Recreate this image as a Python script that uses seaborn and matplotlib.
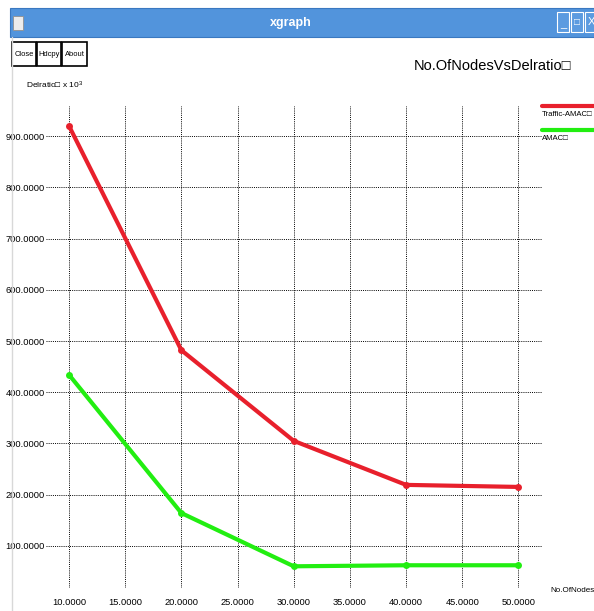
import numpy as np
import pandas as pd
import matplotlib
matplotlib.use('Agg')
import matplotlib.pyplot as plt
import seaborn as sns
from matplotlib.patches import Rectangle
from matplotlib.lines import Line2D

# values
nodes = [10, 20, 30, 40, 50]
traffic_amac = [920, 482, 305, 219, 215]
amac = [434, 164, 60, 62, 62]
series_names = ['Traffic-AMAC\u25a1', 'AMAC\u25a1']
series_colors = ['#e8202c', '#22ee11']
xticks = [10, 15, 20, 25, 30, 35, 40, 45, 50]
yticks = [100, 200, 300, 400, 500, 600, 700, 800, 900]

df = pd.DataFrame({
    'nodes': nodes * 2,
    'delratio': traffic_amac + amac,
    'series': [series_names[0]] * 5 + [series_names[1]] * 5,
})

sns.set_theme(style='white')
plt.rcParams['font.family'] = ['Liberation Sans', 'DejaVu Sans']
plt.rcParams['mathtext.default'] = 'regular'
plt.rcParams['text.color'] = 'black'

W, H = 594, 611
fig = plt.figure(figsize=(W / 100, H / 100), dpi=100)
fig.patch.set_facecolor('white')

def fx(x):
    return x / W

def fy(y):
    return 1 - y / H

# plot area in pixels: x 46..542, y 106..588
ax = fig.add_axes([fx(46), fy(588), fx(542) - fx(46), fy(106) - fy(588)])
sns.lineplot(data=df, x='nodes', y='delratio', hue='series',
             palette=dict(zip(series_names, series_colors)),
             linewidth=3, marker='o', markersize=5, markeredgewidth=0,
             legend=False, ax=ax)
ax.set_xlim(7.95, 52.1)
ax.set_ylim(17.6, 959)
ax.set_xticks(xticks)
ax.set_yticks(yticks)
ax.set_xticklabels(['%.4f' % v for v in xticks], fontsize=6.7)
ax.set_yticklabels(['%.4f' % v for v in yticks], fontsize=6.7)
ax.tick_params(axis='x', length=0, pad=7, colors='black')
ax.tick_params(axis='y', length=0, pad=1, colors='black')
ax.grid(True, color='black', linestyle=(0, (1, 1.2)), linewidth=0.7)
ax.set_axisbelow(True)
for s in ax.spines.values():
    s.set_visible(False)
ax.set_xlabel('')
ax.set_ylabel('')
ax.set_facecolor('none')

# window title bar
fig.add_artist(Rectangle((fx(10), fy(37)), 1 - fx(10), fy(8) - fy(37),
                         transform=fig.transFigure, facecolor='#5294dc',
                         edgecolor='#3a78c0', linewidth=0.8))
fig.add_artist(Rectangle((fx(13), fy(30)), fx(10), fy(16) - fy(30),
                         transform=fig.transFigure, facecolor='#ececec',
                         edgecolor='#909090', linewidth=0.6))
fig.text(fx(291), fy(23), 'xgraph', color='white', fontsize=9,
         fontweight='bold', ha='center', va='center')
for bx in [557, 571, 585]:
    fig.add_artist(Rectangle((fx(bx), fy(32)), fx(12), fy(12) - fy(32),
                             transform=fig.transFigure, facecolor='#5c9be0',
                             edgecolor='white', linewidth=0.8))
fig.text(fx(563), fy(24), '_', color='white', fontsize=8, ha='center', va='center')
fig.text(fx(577), fy(22), '\u25a1', color='white', fontsize=7, ha='center', va='center')
fig.text(fx(591), fy(22), 'X', color='white', fontsize=8, ha='center', va='center')

# window left edge
fig.add_artist(Line2D([fx(12), fx(12)], [fy(37), 0], transform=fig.transFigure,
                      color='#d8d8d8', linewidth=1))

# buttons
for label, x0, x1 in [('Close', 12, 36), ('Hdcpy', 37, 61), ('About', 62, 87)]:
    fig.add_artist(Rectangle((fx(x0), fy(66)), fx(x1) - fx(x0), fy(42) - fy(66),
                             transform=fig.transFigure, facecolor='white',
                             edgecolor='black', linewidth=1.2))
    fig.text(fx((x0 + x1) / 2), fy(54), label, fontsize=5.4, ha='center', va='center')

fig.text(fx(571), fy(66), 'No.OfNodesVsDelratio\u25a1', fontsize=10.5,
         ha='right', va='center')
fig.text(fx(26), fy(85), 'Delratio\u25a1 x 10$^3$', fontsize=6, ha='left', va='center')
fig.text(fx(550), fy(591), 'No.OfNodes', fontsize=5.8, ha='left', va='center')

# legend drawn to the right of the plot, xgraph style
for i, (name, col) in enumerate(zip(series_names, series_colors)):
    ly = 106 + i * 24
    fig.add_artist(Line2D([fx(542), fx(594)], [fy(ly), fy(ly)],
                          transform=fig.transFigure, color=col, linewidth=3))
    fig.text(fx(542), fy(ly + 9), name, fontsize=5.6, ha='left', va='center')

fig.savefig('out.png', dpi=100)
